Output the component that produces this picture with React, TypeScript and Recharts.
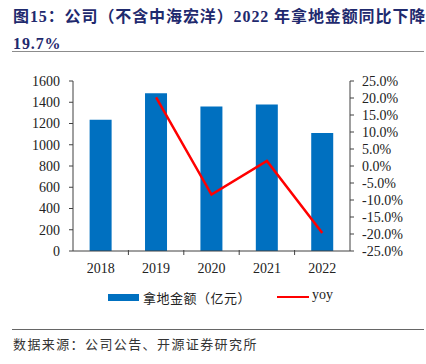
import React from 'react';
import {
  ComposedChart,
  Bar,
  Line,
  XAxis,
  YAxis,
  Legend,
} from 'recharts';

const years = ['2018', '2019', '2020', '2021', '2022'];
const landAmount = [1235, 1485, 1360, 1380, 1110];
const yoy: (number | null)[] = [null, 20.2, -8.4, 1.5, -19.7];
const leftTicks = [0, 200, 400, 600, 800, 1000, 1200, 1400, 1600];
const rightTicks = [-25, -20, -15, -10, -5, 0, 5, 10, 15, 20, 25];

const data = years.map((year, i) => ({ year, amount: landAmount[i], yoy: yoy[i] }));

const W = 426;
const H = 364;
const PLOT_LEFT = 73;
const PLOT_RIGHT = 350;
const BAND = (PLOT_RIGHT - PLOT_LEFT) / years.length;

const numFont = '"Liberation Serif", "Times New Roman", serif';
const cjkFont = '"Liberation Serif", "Noto Sans CJK SC", serif';

const XTick = (props: any) => {
  const { x, y, payload, index } = props;
  const axisY = y - 4;
  return (
    <g>
      {index < years.length - 1 && (
        <line x1={x + BAND / 2} x2={x + BAND / 2} y1={axisY} y2={axisY - 5} stroke="#404040" />
      )}
      <text x={x} y={y + 14} textAnchor="middle" fontSize={14} fontFamily={numFont} fill="#222">
        {payload.value}
      </text>
    </g>
  );
};

const LegendContent = () => (
  <div style={{ position: 'relative', height: 18, width: W }}>
    <div style={{ position: 'absolute', left: 108, top: 6, width: 31, height: 7, background: '#0070C0' }} />
    <span
      style={{ position: 'absolute', left: 143, top: 0, fontSize: 13, fontFamily: cjkFont, color: '#222', letterSpacing: 0.5 }}
    >
      拿地金额（亿元）
    </span>
    <div style={{ position: 'absolute', left: 277, top: 8, width: 32, height: 2, background: '#FF0000' }} />
    <span style={{ position: 'absolute', left: 312, top: -1, fontSize: 14, fontFamily: numFont, color: '#222' }}>
      yoy
    </span>
  </div>
);

export default function App() {
  return (
    <div style={{ position: 'absolute', left: 0, top: 0, width: W, height: H, background: '#fff', overflow: 'hidden' }}>
      <div
        style={{
          position: 'absolute',
          left: 13,
          top: 3,
          fontSize: 16,
          fontWeight: 'bold',
          color: '#1F2A6E',
          fontFamily: cjkFont,
          lineHeight: '27px',
          width: 415,
          letterSpacing: 0.9,
          whiteSpace: 'nowrap',
        }}
      >
        图15：公司（不含中海宏洋）2022 年拿地金额同比下降
        <br />
        19.7%
      </div>
      <div style={{ position: 'absolute', left: 12, top: 51, width: 412, height: 1, background: '#8c8c8c' }} />

      <div style={{ position: 'absolute', left: 0, top: 0 }}>
        <ComposedChart
          width={W}
          height={H}
          data={data}
          margin={{ top: 81, right: 0, left: 13, bottom: 57 }}
          barCategoryGap="30%"
        >
          <XAxis
            dataKey="year"
            xAxisId={0}
            tick={<XTick />}
            tickLine={false}
            axisLine={{ stroke: '#404040' }}
            height={38}
            interval={0}
          />
          <YAxis
            yAxisId="left"
            domain={[0, 1600]}
            ticks={leftTicks}
            width={60}
            tickSize={4}
            tickMargin={9}
            tickLine={{ stroke: '#404040' }}
            axisLine={{ stroke: '#404040' }}
            tick={{ fontSize: 14, fontFamily: numFont, fill: '#222' }}
            interval={0}
          />
          <YAxis
            yAxisId="right"
            orientation="right"
            domain={[-25, 25]}
            ticks={rightTicks}
            width={76}
            tickSize={4}
            tickMargin={8}
            tickLine={{ stroke: '#404040' }}
            axisLine={{ stroke: '#404040' }}
            tickFormatter={(v: number) => `${v.toFixed(1)}%`}
            tick={{ fontSize: 14, fontFamily: numFont, fill: '#222', textAnchor: 'start' }}
            interval={0}
          />
          <Bar yAxisId="left" dataKey="amount" name="拿地金额（亿元）" fill="#0070C0" isAnimationActive={false} />
          <Line
            yAxisId="right"
            dataKey="yoy"
            name="yoy"
            stroke="#FF0000"
            strokeWidth={2.5}
            dot={false}
            activeDot={false}
            connectNulls={false}
            type="linear"
            isAnimationActive={false}
          />
          <Legend
            verticalAlign="bottom"
            content={<LegendContent />}
            wrapperStyle={{ position: 'absolute', left: 0, top: 288, width: W, height: 18 }}
          />
        </ComposedChart>
      </div>

      <div style={{ position: 'absolute', left: 12, top: 329, width: 412, height: 1, background: '#666' }} />
      <div
        style={{
          position: 'absolute',
          left: 13,
          top: 334,
          fontSize: 13,
          fontFamily: cjkFont,
          color: '#333',
          letterSpacing: 1.4,
          whiteSpace: 'nowrap',
        }}
      >
        数据来源：公司公告、开源证券研究所
      </div>
    </div>
  );
}
